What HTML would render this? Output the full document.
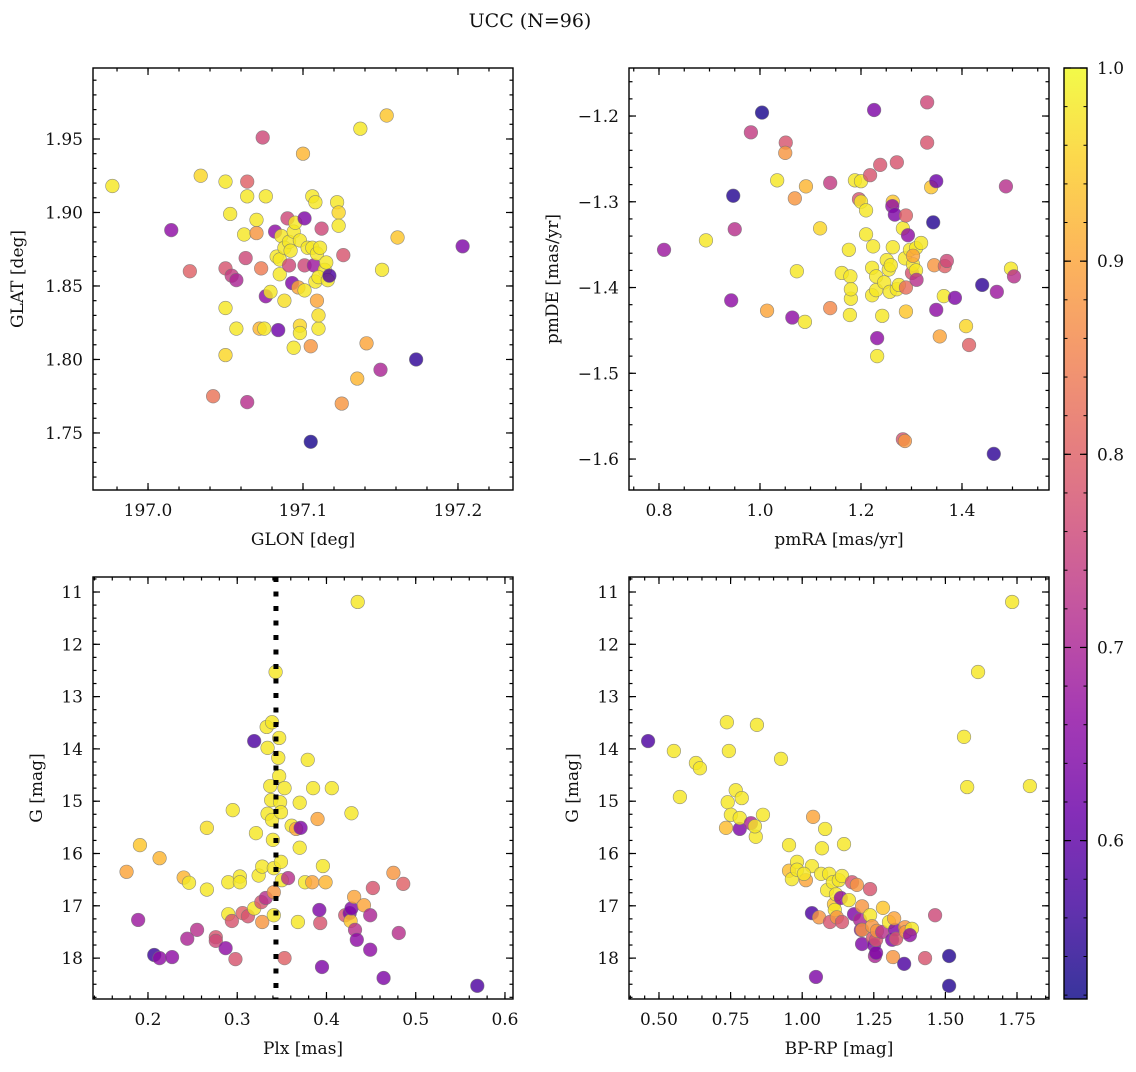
<!DOCTYPE html>
<html><head><meta charset="utf-8"><style>
html,body{margin:0;padding:0;background:#fff;}
svg text{font-family:"DejaVu Serif","Liberation Serif",serif;fill:#111;}
</style></head><body>
<svg id="fig" width="1136" height="1067" viewBox="0 0 1136 1067" xmlns="http://www.w3.org/2000/svg">
<rect width="1136" height="1067" fill="#fff"/>
<text x="530" y="27" font-size="19" text-anchor="middle">UCC (N=96)</text>
</svg>
<script>
// ---- top-left: GLON / GLAT ----
const tlGlon=[196.977,197.034,197.015,197.027,197.042,197.050,197.053,197.050,197.054,197.057,197.050,197.050,197.057,197.064,197.064,197.062,197.063,197.064,197.070,197.070,197.074,197.073,197.076,197.076,197.072,197.075,197.079,197.082,197.083,197.085,197.086,197.085,197.084,197.088,197.088,197.090,197.091,197.091,197.092,197.094,197.093,197.097,197.095,197.098,197.100,197.101,197.101,197.101,197.103,197.106,197.106,197.107,197.108,197.109,197.111,197.112,197.114,197.115,197.110,197.116,197.117,197.105,197.098,197.098,197.094,197.105,197.109,197.110,197.110,197.108,197.122,197.123,197.123,197.126,197.135,197.125,197.141,197.137,197.154,197.150,197.151,197.161,197.173,197.203];
const tlGlat=[1.918,1.925,1.888,1.860,1.775,1.921,1.899,1.862,1.857,1.854,1.835,1.803,1.821,1.921,1.911,1.885,1.869,1.771,1.895,1.886,1.951,1.862,1.911,1.843,1.821,1.821,1.846,1.887,1.870,1.868,1.884,1.858,1.820,1.876,1.840,1.896,1.864,1.880,1.874,1.887,1.852,1.849,1.893,1.881,1.940,1.896,1.847,1.864,1.876,1.911,1.876,1.864,1.853,1.872,1.876,1.889,1.861,1.866,1.856,1.854,1.857,1.744,1.823,1.818,1.808,1.809,1.840,1.821,1.830,1.907,1.907,1.900,1.891,1.871,1.787,1.770,1.811,1.957,1.966,1.793,1.861,1.883,1.800,1.877];
const tlProb=[.98,.96,.66,.80,.83,.98,.98,.78,.74,.70,.98,.96,.98,.80,.98,.98,.76,.72,.98,.88,.76,.84,.98,.66,.92,.98,.98,.66,.98,.98,.98,.98,.62,.98,.97,.76,.76,.98,.98,.98,.64,.90,.98,.98,.92,.64,.98,.76,.98,.98,.98,.68,.98,.98,.98,.76,.98,.98,.98,.98,.58,.53,.96,.98,.98,.88,.90,.98,.97,.98,.98,.96,.98,.78,.92,.88,.90,.98,.94,.70,.98,.94,.55,.64];
// ---- top-right: pmRA / pmDE ----
const trPmra=[0.810,0.893,0.947,0.950,0.943,0.982,1.004,1.034,1.051,1.050,1.069,1.073,1.014,1.064,1.089,1.091,1.119,1.139,1.139,1.162,1.178,1.179,1.180,1.180,1.176,1.188,1.200,1.196,1.200,1.210,1.218,1.210,1.226,1.222,1.222,1.230,1.230,1.224,1.232,1.232,1.238,1.246,1.242,1.251,1.255,1.257,1.259,1.263,1.263,1.262,1.267,1.271,1.271,1.275,1.283,1.287,1.289,1.289,1.289,1.283,1.287,1.293,1.297,1.301,1.303,1.309,1.309,1.303,1.310,1.319,1.331,1.331,1.339,1.343,1.345,1.349,1.349,1.356,1.364,1.366,1.370,1.386,1.408,1.414,1.440,1.463,1.469,1.487,1.497,1.503];
const trPmde=[-1.356,-1.345,-1.293,-1.332,-1.415,-1.219,-1.196,-1.275,-1.231,-1.243,-1.296,-1.381,-1.427,-1.435,-1.440,-1.282,-1.331,-1.278,-1.424,-1.383,-1.432,-1.387,-1.413,-1.402,-1.356,-1.275,-1.276,-1.297,-1.300,-1.338,-1.269,-1.310,-1.193,-1.377,-1.409,-1.387,-1.403,-1.352,-1.459,-1.480,-1.257,-1.394,-1.433,-1.368,-1.379,-1.405,-1.374,-1.300,-1.353,-1.305,-1.315,-1.254,-1.402,-1.397,-1.331,-1.366,-1.316,-1.428,-1.400,-1.577,-1.579,-1.339,-1.356,-1.383,-1.373,-1.354,-1.380,-1.363,-1.391,-1.348,-1.184,-1.231,-1.283,-1.324,-1.374,-1.276,-1.426,-1.457,-1.410,-1.375,-1.369,-1.412,-1.445,-1.467,-1.397,-1.594,-1.405,-1.282,-1.378,-1.387];
const trProb=[.68,.98,.54,.72,.66,.74,.53,.98,.78,.88,.88,.98,.90,.66,.98,.92,.96,.74,.86,.98,.98,.98,.98,.98,.98,.98,.98,.78,.98,.98,.78,.98,.64,.98,.98,.98,.98,.98,.66,.98,.78,.98,.98,.98,.98,.98,.98,.94,.98,.66,.64,.78,.98,.98,.98,.98,.80,.94,.82,.78,.88,.66,.98,.78,.98,.98,.98,.90,.72,.98,.76,.78,.94,.54,.88,.62,.66,.90,.98,.80,.76,.64,.96,.80,.55,.55,.68,.72,.98,.72];
// ---- bottom-left: Plx / G ----
const blPlx=[0.176,0.191,0.189,0.207,0.213,0.213,0.227,0.240,0.246,0.244,0.255,0.266,0.266,0.276,0.276,0.287,0.290,0.290,0.294,0.295,0.298,0.303,0.303,0.306,0.312,0.319,0.319,0.321,0.324,0.328,0.327,0.328,0.332,0.333,0.334,0.334,0.337,0.338,0.339,0.340,0.339,0.341,0.341,0.341,0.343,0.347,0.346,0.347,0.348,0.349,0.349,0.350,0.353,0.353,0.357,0.361,0.366,0.368,0.370,0.371,0.370,0.376,0.379,0.385,0.384,0.393,0.390,0.392,0.395,0.396,0.399,0.406,0.421,0.426,0.427,0.428,0.428,0.431,0.432,0.434,0.435,0.442,0.449,0.449,0.452,0.464,0.475,0.481,0.486,0.569];
const blG=[16.35,15.84,17.27,17.94,18.00,16.09,17.98,16.46,16.56,17.63,17.46,16.69,15.51,17.60,17.67,17.81,16.55,17.16,17.29,15.17,18.02,16.44,16.55,17.14,17.20,13.85,17.05,15.61,16.42,16.25,16.93,17.31,16.85,13.58,15.24,13.98,14.71,14.98,15.36,15.74,13.49,16.28,16.74,17.18,12.53,13.79,14.17,14.52,15.02,15.21,16.16,16.51,18.00,14.75,16.47,15.47,15.53,17.31,15.03,15.51,15.89,16.55,14.21,14.75,16.55,17.33,15.34,17.08,18.17,16.24,16.55,14.75,17.18,17.14,17.29,15.23,17.05,16.83,17.46,17.65,11.19,16.99,17.18,17.84,16.66,18.38,16.37,17.52,16.58,18.53];
const blProb=[.90,.94,.68,.56,.66,.92,.66,.92,.98,.70,.72,.98,.97,.78,.76,.66,.98,.98,.78,.98,.78,.98,.98,.80,.78,.58,.98,.98,.98,.98,.78,.88,.72,.98,.98,.98,.98,.98,.98,.98,.98,.98,.88,.98,.98,.98,.98,.98,.98,.98,.98,.98,.80,.98,.72,.98,.90,.98,.98,.64,.98,.98,.98,.98,.90,.78,.90,.64,.64,.98,.92,.98,.78,.64,.94,.98,.64,.90,.72,.66,.98,.90,.70,.66,.78,.64,.88,.72,.80,.58];
const blPlxMean=[0.3434];
// ---- bottom-right: BP-RP / G ----
const brBprp=[0.462,0.552,0.573,0.629,0.643,0.737,0.744,0.740,0.751,0.734,0.768,0.782,0.789,0.782,0.821,0.838,0.835,0.842,0.863,0.926,0.954,0.954,0.964,0.982,0.982,1.013,1.034,1.038,1.006,1.034,1.048,1.059,1.066,1.069,1.080,1.087,1.094,1.097,1.107,1.111,1.114,1.118,1.121,1.128,1.139,1.135,1.139,1.146,1.163,1.174,1.181,1.191,1.202,1.205,1.209,1.209,1.209,1.237,1.237,1.244,1.247,1.251,1.254,1.258,1.258,1.261,1.279,1.303,1.317,1.314,1.324,1.321,1.328,1.356,1.359,1.362,1.383,1.376,1.282,1.429,1.464,1.513,1.513,1.565,1.576,1.614,1.733,1.795];
const brG=[13.85,14.04,14.92,14.27,14.37,13.49,14.04,15.02,15.26,15.51,14.79,15.53,14.94,15.32,15.42,15.68,15.48,13.54,15.26,14.19,16.33,15.84,16.49,16.16,16.31,16.51,16.24,15.30,16.39,17.14,18.36,17.22,16.39,15.90,15.53,16.70,16.39,17.31,16.55,16.97,17.08,16.78,17.22,16.51,17.31,16.85,16.43,15.82,16.89,16.55,17.16,16.60,17.27,17.46,17.01,17.73,17.46,17.18,16.68,17.39,17.62,17.75,17.96,17.90,17.65,17.48,17.50,17.31,17.98,17.65,17.46,17.24,17.63,18.11,17.41,17.50,17.44,17.56,17.04,18.00,17.18,17.96,18.53,13.77,14.73,12.53,11.19,14.71];
const brProb=[.58,.98,.98,.98,.98,.98,.98,.98,.98,.93,.98,.64,.98,.98,.70,.98,.98,.98,.98,.98,.93,.98,.98,.98,.98,.90,.98,.90,.98,.58,.64,.88,.98,.98,.98,.98,.98,.78,.98,.94,.98,.98,.88,.98,.78,.66,.98,.98,.98,.78,.64,.88,.70,.66,.88,.64,.88,.98,.78,.88,.78,.64,.70,.64,.78,.88,.72,.98,.88,.64,.64,.90,.78,.58,.88,.88,.98,.66,.94,.78,.76,.54,.54,.98,.98,.98,.98,.98];
// ---- colorbar ----
const cbTicks=[0.6,0.7,0.8,0.9,1.0];
const cbRange=[0.518,1.0];

const NS='http://www.w3.org/2000/svg';
const svg=document.getElementById('fig');
const stops=['#0d0887','#41049d','#6a00a8','#8f0da4','#b12a90','#cc4778','#e16462','#f2844b','#fca636','#fcce25','#f0f921'];
function hex(h){return [parseInt(h.substr(1,2),16),parseInt(h.substr(3,2),16),parseInt(h.substr(5,2),16)];}
function plasma(t){t=Math.max(0,Math.min(1,t));const f=t*10,i=Math.min(9,Math.floor(f)),u=f-i;const a=hex(stops[i]),b=hex(stops[i+1]);
 return 'rgb('+a.map((v,k)=>Math.round(v+(b[k]-v)*u)).join(',')+')';}
function cnorm(p){return (p-cbRange[0])/(cbRange[1]-cbRange[0]);}
function mk(tag,attrs,parent){const e=document.createElementNS(NS,tag);for(const k in attrs)e.setAttribute(k,attrs[k]);(parent||svg).appendChild(e);return e;}
function fmt(v,d){return v.toFixed(d).replace('-','\u2212');}

function panel(o){
 const g=mk('g',{});
 
 
 const sx=v=>o.x0+(v-o.xd[0])/(o.xd[1]-o.xd[0])*(o.x1-o.x0);
 const sy=o.inv?(v=>o.y0+(v-o.yd[0])/(o.yd[1]-o.yd[0])*(o.y1-o.y0)):(v=>o.y1-(v-o.yd[0])/(o.yd[1]-o.yd[0])*(o.y1-o.y0));
 const pts=mk('g',{},g);
 
 
 for(let i=0;i<o.xs.length;i++){
  const c=mk('circle',{cx:sx(o.xs[i]),cy:sy(o.ys[i]),r:6.8,fill:plasma(cnorm(o.cs[i])),'fill-opacity':0.82,stroke:'#777','stroke-width':0.6,'stroke-opacity':0.8},pts);
  
  
 }
 if(o.vline){const l=mk('line',{x1:sx(o.vline[0]),x2:sx(o.vline[0]),y1:o.y0,y2:o.y1,stroke:'#000','stroke-width':5,'stroke-dasharray':'5,9.5'},g);
  
  }
 const fr=mk('rect',{x:o.x0,y:o.y0,width:o.x1-o.x0,height:o.y1-o.y0,fill:'none',stroke:'#000','stroke-width':1.4},g);
 
 
 const tk=mk('g',{stroke:'#000','stroke-width':1.2},g);
 
 
 function ticks(axis,dom,step,len){const n0=Math.ceil(dom[0]/step-1e-6),n1=Math.floor(dom[1]/step+1e-6);
  for(let n=n0;n<=n1;n++){const v=n*step;
   if(axis==='x'){const X=sx(v);mk('line',{x1:X,x2:X,y1:o.y1,y2:o.y1-len},tk);mk('line',{x1:X,x2:X,y1:o.y0,y2:o.y0+len},tk);}
   else{const Y=sy(v);mk('line',{x1:o.x0,x2:o.x0+len,y1:Y,y2:Y},tk);mk('line',{x1:o.x1,x2:o.x1-len,y1:Y,y2:Y},tk);}}}
 ticks('x',o.xd,o.xmaj,7);ticks('x',o.xd,o.xmin,3.5);ticks('y',o.yd,o.ymaj,7);ticks('y',o.yd,o.ymin,3.5);
 const n0=Math.ceil(o.xd[0]/o.xmaj-1e-6),n1=Math.floor(o.xd[1]/o.xmaj+1e-6);
 for(let n=n0;n<=n1;n++){const t=mk('text',{x:sx(n*o.xmaj),y:o.y1+26,'font-size':17,'text-anchor':'middle'},g);t.textContent=fmt(n*o.xmaj,o.xdec);
  
  }
 const m0=Math.ceil(o.yd[0]/o.ymaj-1e-6),m1=Math.floor(o.yd[1]/o.ymaj+1e-6);
 for(let n=m0;n<=m1;n++){const t=mk('text',{x:o.x0-10,y:sy(n*o.ymaj)+6,'font-size':17,'text-anchor':'end'},g);t.textContent=fmt(n*o.ymaj,o.ydec);
  
  }
 const xl=mk('text',{x:(o.x0+o.x1)/2,y:o.y1+55,'font-size':17,'text-anchor':'middle'},g);xl.textContent=o.xlab;
 
 
 const yl=mk('text',{x:0,y:0,'font-size':17,'text-anchor':'middle',transform:`translate(${o.ylx},${(o.y0+o.y1)/2}) rotate(-90)`},g);yl.textContent=o.ylab;
 
 
}
panel({name:'glon-glat-panel',x0:93,x1:513,y0:68,y1:490,xd:[196.9645,197.2355],yd:[1.7112,1.9983],xmaj:0.1,xmin:0.02,ymaj:0.05,ymin:0.01,xdec:1,ydec:2,xs:tlGlon,ys:tlGlat,cs:tlProb,xlab:'GLON [deg]',ylab:'GLAT [deg]',ylx:23});
panel({name:'pm-panel',x0:629,x1:1049,y0:68,y1:490,xd:[0.7406,1.5723],yd:[-1.6361,-1.144],xmaj:0.2,xmin:0.05,ymaj:0.1,ymin:0.02,xdec:1,ydec:1,xs:trPmra,ys:trPmde,cs:trProb,xlab:'pmRA [mas/yr]',ylab:'pmDE [mas/yr]',ylx:558});
panel({name:'plx-g-panel',x0:93,x1:513,y0:577,y1:999,xd:[0.1384,0.6090],yd:[10.713,18.782],inv:true,xmaj:0.1,xmin:0.02,ymaj:1,ymin:0.25,xdec:1,ydec:0,xs:blPlx,ys:blG,cs:blProb,xlab:'Plx [mas]',ylab:'G [mag]',ylx:42,vline:blPlxMean});
panel({name:'cmd-panel',x0:629,x1:1049,y0:577,y1:999,xd:[0.3953,1.8617],yd:[10.713,18.782],inv:true,xmaj:0.25,xmin:0.05,ymaj:1,ymin:0.25,xdec:2,ydec:0,xs:brBprp,ys:brG,cs:brProb,xlab:'BP-RP [mag]',ylab:'G [mag]',ylx:578});

// colorbar
(function(){
 const x0=1064,x1=1087,y0=68,y1=999;
 const g=mk('g',{});
 
 
 const defs=mk('defs',{},g);
 const lg=mk('linearGradient',{id:'cmapg',x1:0,y1:1,x2:0,y2:0},defs);
 for(let i=0;i<=20;i++){const t=i/20;const v=cbRange[0]+t*(cbRange[1]-cbRange[0]);mk('stop',{offset:t,'stop-color':plasma(cnorm(v)),'stop-opacity':0.82},lg);}
 mk('rect',{x:x0,y:y0,width:x1-x0,height:y1-y0,fill:'url(#cmapg)',stroke:'#000','stroke-width':1.4},g);
 const sy=v=>y1-(v-cbRange[0])/(cbRange[1]-cbRange[0])*(y1-y0);
 for(const v of cbTicks){const Y=sy(v);mk('line',{x1:x1,x2:x1-7,y1:Y,y2:Y,stroke:'#000','stroke-width':1.2},g);mk('line',{x1:x0,x2:x0+7,y1:Y,y2:Y,stroke:'#000','stroke-width':1.2},g);
  const t=mk('text',{x:x1+10,y:Y+6,'font-size':17},g);t.textContent=v.toFixed(1);
  
  }
 for(let n=Math.ceil(cbRange[0]/0.02);n*0.02<=cbRange[1]+1e-6;n++){const Y=sy(n*0.02);mk('line',{x1:x1,x2:x1-3.5,y1:Y,y2:Y,stroke:'#000','stroke-width':1},g);mk('line',{x1:x0,x2:x0+3.5,y1:Y,y2:Y,stroke:'#000','stroke-width':1},g);}
})();
</script>
</body></html>
